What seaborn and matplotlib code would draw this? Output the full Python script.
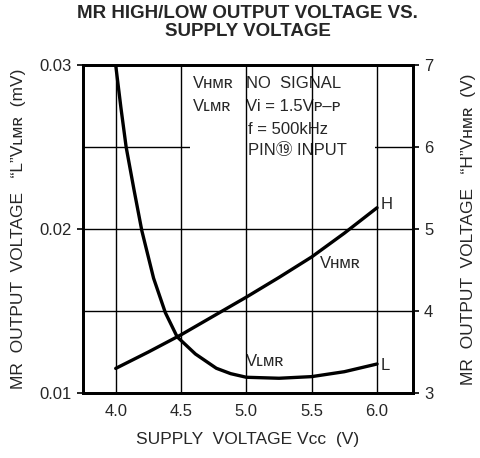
import matplotlib
matplotlib.use("Agg")
import matplotlib.pyplot as plt
import matplotlib.patches as mpatches
import seaborn as sns
import pandas as pd

# supply voltage Vcc (V)
vcc_h = [4.0, 4.25, 4.5, 4.75, 5.0, 5.25, 5.5, 5.75, 6.0]
# "H" VHMR (V), right axis
vhmr = [3.30, 3.50, 3.71, 3.94, 4.17, 4.41, 4.66, 4.95, 5.26]

vcc_l = [4.0, 4.04, 4.08, 4.14, 4.2, 4.29, 4.38, 4.47, 4.61,
         4.77, 4.88, 5.0, 5.25, 5.5, 5.75, 6.0]
# "L" VLMR (mV), left axis
vlmr = [0.0300, 0.0274, 0.0250, 0.0224, 0.0199, 0.0170, 0.0149,
        0.01343, 0.01238, 0.01151, 0.01118, 0.01096, 0.0109, 0.0110, 0.0113,
        0.01177]

x_ticks = [4.0, 4.5, 5.0, 5.5, 6.0]
left_ticks = [0.01, 0.02, 0.03]
right_ticks = [3, 4, 5, 6, 7]

sns.set_style("white")
plt.rcParams['font.family'] = ['Liberation Sans', 'DejaVu Sans', 'Noto Sans CJK JP']

df_h = pd.DataFrame({"vcc": vcc_h, "v": vhmr})
df_l = pd.DataFrame({"vcc": vcc_l, "v": vlmr})

fig = plt.figure(figsize=(4.81, 4.58), dpi=100)
ax = fig.add_axes([0.1726, 0.1419, 0.686, 0.716])
ax2 = ax.twinx()

ax.set_xlim(3.75, 6.275)
ax.set_ylim(0.01, 0.03)
ax2.set_ylim(3, 7)

# grid
for x in x_ticks:
    ax.axvline(x, color="black", lw=1.0, zorder=1)
for y in [4, 5, 6]:
    ax2.axhline(y, color="black", lw=1.0, zorder=1)

# white area behind the conditions text
ax2.add_patch(mpatches.Rectangle((4.57, 5.80), 1.415, 1.09, facecolor="white",
                                 edgecolor="none", zorder=2))

sns.lineplot(data=df_l, x="vcc", y="v", ax=ax, color="black", lw=2.4, zorder=3)
sns.lineplot(data=df_h, x="vcc", y="v", ax=ax2, color="black", lw=2.4, zorder=3)

ax.set_xticks(x_ticks)
ax.set_xticklabels([f"{t:.1f}" for t in x_ticks], fontsize=12)
ax.set_yticks(left_ticks)
ax.set_yticklabels(["0.01", "0.02", "0.03"], fontsize=12)
ax2.set_yticks(right_ticks)
ax2.set_yticklabels([str(t) for t in right_ticks], fontsize=12)
for a in (ax, ax2):
    a.tick_params(length=4, width=1.2, color="black", pad=4)
    for s in a.spines.values():
        s.set_linewidth(2.0)
        s.set_color("black")

ax.set_xlabel("SUPPLY  VOLTAGE Vᴄᴄ  (V)", fontsize=12.5, labelpad=9)
ax.set_ylabel("MR  OUTPUT  VOLTAGE   \u201cL\u201dVʟᴍʀ  (mV)", fontsize=12.5, labelpad=10)
ax2.set_ylabel("MR  OUTPUT  VOLTAGE   \u201cH\u201dVʜᴍʀ  (V)", fontsize=12.5,
               rotation=90, labelpad=20)

fig.suptitle("MR HIGH/LOW OUTPUT VOLTAGE VS.\nSUPPLY VOLTAGE", fontsize=13.5,
             fontweight="bold", x=0.515, y=0.99, linespacing=1.1)

# conditions text
tk = dict(fontsize=12, va="center", ha="left", zorder=4)
ax2.text(4.59, 6.78, "Vʜᴍʀ", **tk)
ax2.text(4.59, 6.49, "Vʟᴍʀ", **tk)
ax2.text(5.0, 6.78, "NO  SIGNAL", **tk)
ax2.text(5.0, 6.49, "Vi = 1.5Vᴘ\u2013ᴘ", **tk)
ax2.text(5.01, 6.21, "f = 500kHz", **tk)
ax2.text(5.01, 5.96, "PIN\u2472 INPUT", **tk)

# curve labels
ax2.text(6.03, 5.30, "H", **tk)
ax2.text(6.03, 3.33, "L", **tk)
ax2.text(5.56, 4.58, "Vʜᴍʀ", **tk)
ax2.text(5.0, 3.38, "Vʟᴍʀ", **tk)

ax.set_zorder(ax2.get_zorder() + 1)
ax.patch.set_visible(False)

fig.savefig("out.png", dpi=100)
